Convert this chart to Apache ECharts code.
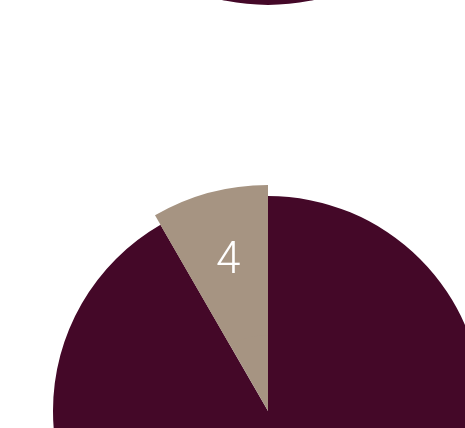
<!DOCTYPE html>
<html>
<head>
<meta charset="utf-8">
<script src="https://cdn.jsdelivr.net/npm/echarts@6/dist/echarts.min.js"></script>
<style>
html,body{margin:0;padding:0;background:#ffffff;}
#chart{width:465px;height:428px;}
</style>
</head>
<body>
<div id="chart"></div>
<script>
var categories = ['Other', 'Selected'];
var values = [44, 4];
var colors = ['#440828', '#a69482'];

var chart = echarts.init(document.getElementById('chart'), null, {renderer: 'canvas'});

function baseData() {
  return categories.map(function (c, i) {
    return {name: c, value: values[i], itemStyle: {color: colors[i]}};
  });
}
function highlightData() {
  return categories.map(function (c, i) {
    return {
      name: c, value: values[i],
      itemStyle: {color: i === 1 ? colors[i] : 'rgba(0,0,0,0)'},
      label: {show: i === 1}
    };
  });
}

var common = {
  type: 'pie',
  startAngle: 90,
  clockwise: true,
  silent: true,
  animation: false,
  avoidLabelOverlap: false,
  itemStyle: {borderWidth: 0},
  emphasis: {disabled: true},
  labelLine: {show: false}
};

chart.setOption({
  animation: false,
  backgroundColor: '#ffffff',
  series: [
    Object.assign({}, common, {
      center: [268, -210],
      radius: [0, 215],
      label: {show: false},
      data: baseData()
    }),
    Object.assign({}, common, {
      center: [268, 411],
      radius: [0, 215],
      label: {show: false},
      data: baseData()
    }),
    Object.assign({}, common, {
      center: [268, 411],
      radius: [76, 226],
      label: {
        show: true,
        position: 'inside',
        formatter: function (p) { return String(p.value); },
        color: '#ffffff',
        fontFamily: 'Roboto',
        fontWeight: 300,
        fontSize: 44
      },
      data: highlightData()
    })
  ]
});
</script>
</body>
</html>
